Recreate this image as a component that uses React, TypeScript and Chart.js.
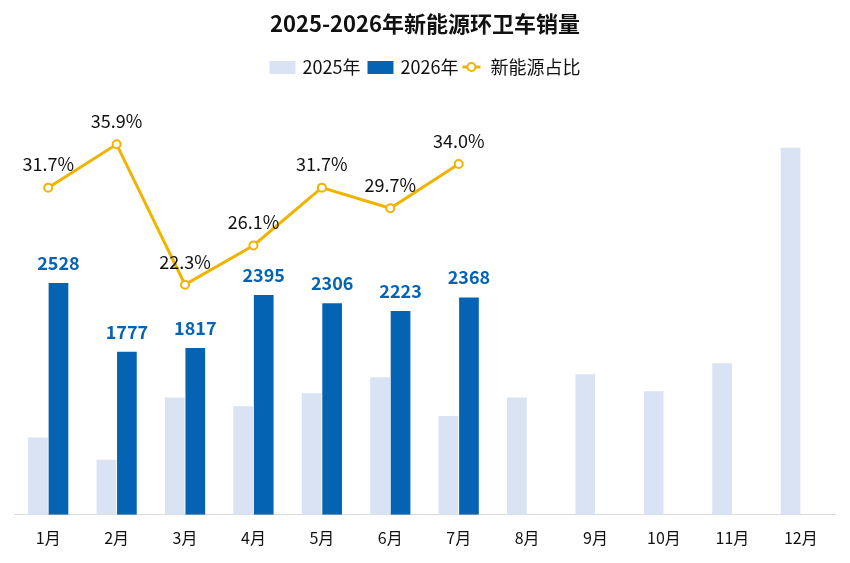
import React, { useEffect, useRef } from "react";
import { Chart, registerables } from "chart.js";

Chart.register(...registerables);

const FONT = '"Noto Sans CJK SC", "Noto Sans", sans-serif';

const TITLE = "2025-2026年新能源环卫车销量";
const categories = ["1月", "2月", "3月", "4月", "5月", "6月", "7月", "8月", "9月", "10月", "11月", "12月"];
const sales2025 = [843, 600, 1280, 1182, 1324, 1499, 1076, 1280, 1532, 1346, 1652, 4000];
const sales2026: (number | null)[] = [2528, 1777, 1817, 2395, 2306, 2223, 2368, null, null, null, null, null];
const nevShare: (number | null)[] = [31.7, 35.9, 22.3, 26.1, 31.7, 29.7, 34.0, null, null, null, null, null];
const seriesNames = ["2025年", "2026年", "新能源占比"];

const LIGHT = "#dae3f3";
const DARK = "#0563b4";
const GOLD = "#f0b400";

const overlayPlugin = {
  id: "overlay",
  beforeDraw(chart: any) {
    const ctx = chart.ctx;
    ctx.save();
    ctx.fillStyle = "#ffffff";
    ctx.fillRect(0, 0, chart.width, chart.height);
    ctx.restore();
  },
  afterDraw(chart: any) {
    const ctx = chart.ctx;
    ctx.save();
    // title
    ctx.fillStyle = "#111111";
    ctx.font = `bold 22px ${FONT}`;
    ctx.textAlign = "center";
    ctx.textBaseline = "middle";
    ctx.fillText(TITLE, chart.width / 2, 24);

    // legend
    ctx.font = `18px ${FONT}`;
    const w0 = ctx.measureText(seriesNames[0]).width;
    const w1 = ctx.measureText(seriesNames[1]).width;
    const w2 = ctx.measureText(seriesNames[2]).width;
    const boxW = 26;
    const lineW = 18;
    const total = boxW + 7 + w0 + 7 + boxW + 7 + w1 + 4 + lineW + 10 + w2;
    let x = chart.width / 2 - total / 2;
    const cy = 67;
    ctx.textAlign = "left";
    ctx.fillStyle = LIGHT;
    ctx.fillRect(x, cy - 6, boxW, 13);
    x += boxW + 7;
    ctx.fillStyle = "#111111";
    ctx.fillText(seriesNames[0], x, cy);
    x += w0 + 7;
    ctx.fillStyle = DARK;
    ctx.fillRect(x, cy - 6, boxW, 13);
    x += boxW + 7;
    ctx.fillStyle = "#111111";
    ctx.fillText(seriesNames[1], x, cy);
    x += w1 + 4;
    ctx.strokeStyle = GOLD;
    ctx.lineWidth = 3;
    ctx.beginPath();
    ctx.moveTo(x, cy);
    ctx.lineTo(x + lineW, cy);
    ctx.stroke();
    ctx.beginPath();
    ctx.arc(x + lineW / 2, cy, 4, 0, Math.PI * 2);
    ctx.fillStyle = "#ffffff";
    ctx.fill();
    ctx.lineWidth = 2;
    ctx.stroke();
    x += lineW + 10;
    ctx.fillStyle = "#111111";
    ctx.fillText(seriesNames[2], x, cy);

    // data labels for 2026 bars
    const barMeta = chart.getDatasetMeta(1);
    ctx.textAlign = "center";
    ctx.font = `bold 18px ${FONT}`;
    ctx.fillStyle = DARK;
    barMeta.data.forEach((el: any, i: number) => {
      const v = sales2026[i];
      if (v == null) return;
      ctx.fillText(String(v), el.x, el.y - 20);
    });

    // data labels for share line
    const lineMeta = chart.getDatasetMeta(2);
    ctx.font = `18px ${FONT}`;
    ctx.fillStyle = "#111111";
    lineMeta.data.forEach((el: any, i: number) => {
      const v = nevShare[i];
      if (v == null) return;
      ctx.fillText(v.toFixed(1) + "%", el.x, el.y - 23);
    });
    ctx.restore();
  },
};

export default function App() {
  const ref = useRef<HTMLCanvasElement | null>(null);
  useEffect(() => {
    if (!ref.current) return;
    const chart = new Chart(ref.current, {
      type: "bar",
      data: {
        labels: categories,
        datasets: [
          {
            type: "bar",
            label: seriesNames[0],
            data: sales2025,
            backgroundColor: LIGHT,
            yAxisID: "y",
            order: 1,
            categoryPercentage: 0.6,
            barPercentage: 0.96,
          },
          {
            type: "bar",
            label: seriesNames[1],
            data: sales2026,
            backgroundColor: DARK,
            yAxisID: "y",
            order: 1,
            categoryPercentage: 0.6,
            barPercentage: 0.96,
          },
          {
            type: "line",
            label: seriesNames[2],
            data: nevShare,
            borderColor: GOLD,
            borderWidth: 3,
            pointRadius: 4,
            pointBorderWidth: 2,
            pointBackgroundColor: "#ffffff",
            pointBorderColor: GOLD,
            yAxisID: "y1",
            order: 0,
            spanGaps: false,
            tension: 0,
          },
        ] as any,
      },
      options: {
        animation: false,
        responsive: false,
        devicePixelRatio: 1,
        layout: { padding: { top: 102, left: 14, right: 15, bottom: 1 } },
        plugins: {
          legend: { display: false },
          title: { display: false },
          tooltip: { enabled: false },
        },
        scales: {
          x: {
            grid: { display: false, drawTicks: false },
            border: { display: true, color: "#d9d9d9", width: 1 },
            ticks: { color: "#111111", font: { family: FONT, size: 16 }, padding: 14 },
          },
          y: { display: false, min: 0, max: 4500 },
          y1: { display: false, min: 0, max: 40, position: "right" },
        },
      },
      plugins: [overlayPlugin],
    });
    return () => chart.destroy();
  }, []);
  return (
    <div style={{ position: "fixed", left: 0, top: 0, width: 850, height: 563, background: "#fff" }}>
      <canvas ref={ref} width={850} height={563} />
    </div>
  );
}
